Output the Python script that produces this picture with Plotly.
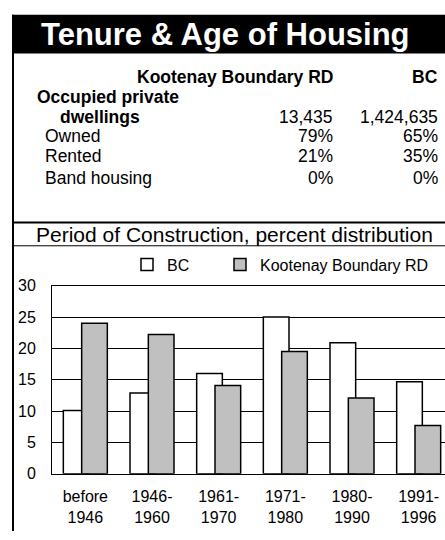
'''
    Tenure & Age of Housing: a small table and a bar chart of the
    period of construction, Kootenay Boundary RD against BC.
'''

import plotly.graph_objects as go

W, H = 445, 540
FONT = 'Liberation Sans, Arial, sans-serif'

periods = ['before<br>1946', '1946-<br>1960', '1961-<br>1970',
           '1971-<br>1980', '1980-<br>1990', '1991-<br>1996']
bc_pct = [10.1, 12.9, 16.0, 25.0, 20.9, 14.7]
kb_pct = [24.0, 22.2, 14.1, 19.5, 12.1, 7.7]

row_labels = ['Occupied private', 'dwellings', 'Owned', 'Rented', 'Band housing']
kb_values = ['', '13,435', '79%', '21%', '0%']
bc_values = ['', '1,424,635', '65%', '35%', '0%']


def px_x(x):
    return x / W


def px_y(y):
    return 1 - y / H


fig = go.Figure()

# white BC bars drawn first, grey ones on top of them
fig.add_trace(go.Bar(
    x=periods, y=bc_pct, name='BC', legend='legend',
    marker_color='white', marker_line_color='black', marker_line_width=1.5,
    width=0.385, offset=-0.33, hoverinfo='skip'
))
fig.add_trace(go.Bar(
    x=periods, y=kb_pct, name='Kootenay Boundary RD', legend='legend2',
    marker_color='#C0C0C0', marker_line_color='black', marker_line_width=1.5,
    width=0.385, offset=-0.055, hoverinfo='skip'
))

legend_style = dict(orientation='h', y=px_y(265), xanchor='left', yanchor='middle',
                    font=dict(size=16), bgcolor='rgba(0,0,0,0)')

fig.update_layout(
    width=W, height=H,
    margin=dict(l=0, r=0, t=0, b=0),
    paper_bgcolor='white', plot_bgcolor='white',
    barmode='overlay',
    font=dict(family=FONT, size=16, color='black'),
    showlegend=True,
    legend=dict(x=px_x(127), **legend_style),
    legend2=dict(x=px_x(220), **legend_style),
    xaxis=dict(domain=[px_x(52), 1], type='category',
               range=[-0.5, 5.395], showgrid=False,
               showline=True, linecolor='black', linewidth=1, mirror=True,
               ticks='', ticklabelstandoff=8,
               tickfont=dict(size=16)),
    yaxis=dict(domain=[px_y(481), px_y(286.7)], range=[0, 30],
               tickvals=[0, 5, 10, 15, 20, 25, 30],
               showgrid=True, gridcolor='black', gridwidth=1,
               zeroline=False,
               showline=True, linecolor='black', linewidth=1,
               ticks='', ticklabelstandoff=12,
               tickfont=dict(size=16)),
)

shapes = [
    # black title band
    dict(type='rect', xref='paper', yref='paper',
         x0=px_x(12), x1=1, y0=px_y(47), y1=px_y(7),
         fillcolor='black', line_width=0),
    # left frame
    dict(type='line', xref='paper', yref='paper',
         x0=px_x(13), x1=px_x(13), y0=px_y(7), y1=0,
         line=dict(color='black', width=2)),
    # separators
    dict(type='line', xref='paper', yref='paper',
         x0=px_x(12), x1=1, y0=px_y(221.5), y1=px_y(221.5),
         line=dict(color='black', width=2)),
    dict(type='line', xref='paper', yref='paper',
         x0=px_x(12), x1=1, y0=px_y(245.5), y1=px_y(245.5),
         line=dict(color='black', width=1)),
]

annotations = [
    dict(text='<b>Tenure & Age of Housing</b>', x=px_x(225), y=px_y(27),
         font=dict(size=31, color='white')),
    dict(text='Period of Construction, percent distribution',
         x=px_x(235), y=px_y(234), font=dict(size=21)),
    dict(text='<b>Kootenay Boundary RD</b>', x=px_x(335), y=px_y(71),
         xanchor='right', font=dict(size=17.5)),
    dict(text='<b>BC</b>', x=px_x(440), y=px_y(71),
         xanchor='right', font=dict(size=17.5)),
]

row_y = [92.3, 112.3, 132.3, 152.3, 175.7]
row_x = [35, 58, 43, 43, 43]
for i, label in enumerate(row_labels):
    text = '<b>%s</b>' % label if i < 2 else label
    annotations.append(dict(text=text, x=px_x(row_x[i]), y=px_y(row_y[i]),
                            xanchor='left', font=dict(size=17.5)))
    if kb_values[i]:
        annotations.append(dict(text=kb_values[i], x=px_x(335), y=px_y(row_y[i]),
                                xanchor='right', font=dict(size=17.5)))
        annotations.append(dict(text=bc_values[i], x=px_x(440), y=px_y(row_y[i]),
                                xanchor='right', font=dict(size=17.5)))

for a in annotations:
    a.update(xref='paper', yref='paper', showarrow=False, yanchor='middle')
    a.setdefault('xanchor', 'center')
    a['font'].setdefault('family', FONT)
    a['font'].setdefault('color', 'black')

fig.update_layout(shapes=shapes, annotations=annotations)

fig.write_html("out.html",
               config={'displayModeBar': False, 'staticPlot': True},
               post_script="document.body.style.margin='0';"
                           "document.body.style.overflow='hidden';")
